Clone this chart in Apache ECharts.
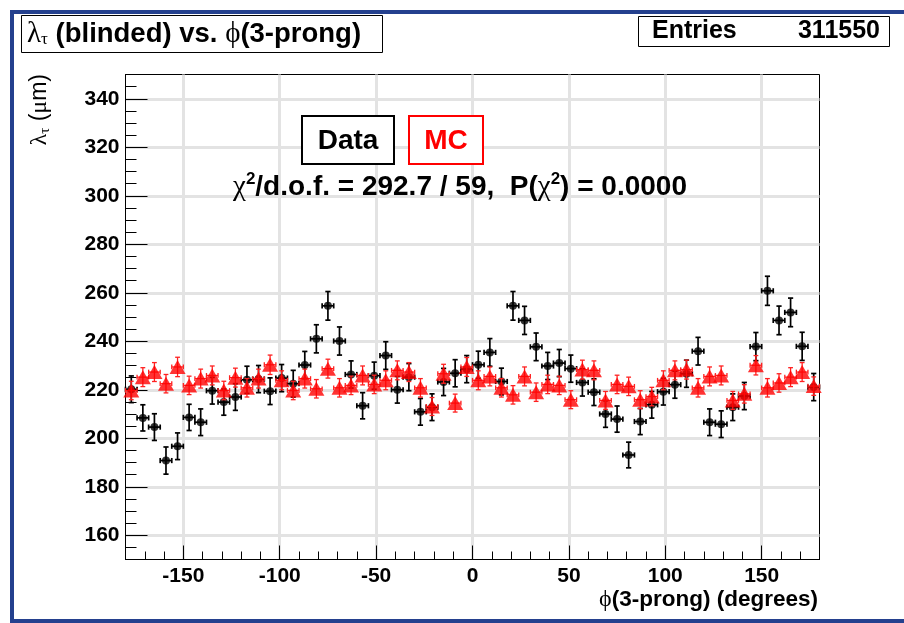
<!DOCTYPE html>
<html>
<head>
<meta charset="utf-8">
<title>lambda_tau vs phi(3-prong)</title>
<script src="https://cdn.jsdelivr.net/npm/echarts@6/dist/echarts.min.js"></script>
<style>
  html, body { margin: 0; padding: 0; background: #ffffff; }
  #chart { width: 904px; height: 623px; }
</style>
</head>
<body>
<div id="chart"></div>
<script>
// ---- binned measurements: phi(3-prong) bin centres (6 degree bins) ----
const phiCentres = [
  -177, -171, -165, -159, -153, -147, -141, -135, -129, -123,
  -117, -111, -105,  -99,  -93,  -87,  -81,  -75,  -69,  -63,
   -57,  -51,  -45,  -39,  -33,  -27,  -21,  -15,   -9,   -3,
     3,    9,   15,   21,   27,   33,   39,   45,   51,   57,
    63,   69,   75,   81,   87,   93,   99,  105,  111,  117,
   123,  129,  135,  141,  147,  153,  159,  165,  171,  177
];
const phiHalfWidth = [3, 3, 3, 3, 3, 3, 3, 3, 3, 3, 3, 3, 3, 3, 3, 3, 3, 3, 3, 3,
  3, 3, 3, 3, 3, 3, 3, 3, 3, 3, 3, 3, 3, 3, 3, 3, 3, 3, 3, 3,
  3, 3, 3, 3, 3, 3, 3, 3, 3, 3, 3, 3, 3, 3, 3, 3, 3, 3, 3, 3];

// mean decay length (um), data
const dataLambda = [
  220.2, 208.4, 204.6, 190.8, 196.7, 208.6, 206.6, 219.6, 214.9, 217.0,
  224.1, 224.4, 219.4, 224.8, 222.5, 230.2, 241.0, 254.6, 240.1, 226.3,
  213.4, 225.8, 234.1, 220.0, 225.2, 210.9, 212.8, 223.2, 226.8, 228.5,
  230.3, 235.4, 223.4, 254.6, 248.6, 237.7, 229.8, 231.0, 228.7, 223.0,
  219.0, 210.0, 207.9, 193.1, 206.9, 213.8, 219.2, 222.1, 226.6, 235.9,
  206.6, 205.8, 212.8, 217.4, 237.8, 260.8, 248.6, 251.9, 237.9, 221.1
];
const dataErr = [
  5.5, 5.4, 5.5, 5.6, 5.5, 5.4, 5.5, 5.5, 5.4, 5.5,
  5.6, 5.6, 5.5, 5.6, 5.5, 5.6, 5.8, 5.9, 5.8, 5.6,
  5.4, 5.6, 5.7, 5.5, 5.6, 5.5, 5.5, 5.6, 5.6, 5.6,
  5.6, 5.7, 5.5, 5.9, 5.8, 5.7, 5.6, 5.6, 5.6, 5.6,
  5.5, 5.5, 5.4, 5.3, 5.4, 5.5, 5.5, 5.6, 5.6, 5.7,
  5.5, 5.5, 5.5, 5.6, 5.8, 6.0, 5.9, 5.9, 5.8, 5.6
];

// mean decay length (um), simulation
const mcLambda = [
  219.7, 225.2, 227.3, 222.5, 229.4, 221.8, 224.6, 225.9, 219.7, 225.0,
  220.8, 224.6, 230.3, 223.9, 219.7, 224.6, 220.4, 228.7, 220.8, 221.8,
  225.9, 222.2, 223.9, 228.0, 227.3, 220.8, 213.1, 226.6, 214.5, 229.4,
  223.9, 225.5, 220.8, 217.9, 225.5, 219.0, 222.2, 221.8, 215.9, 228.3,
  228.0, 215.6, 222.2, 221.4, 215.9, 217.2, 223.9, 228.0, 228.3, 220.8,
  225.5, 225.9, 215.6, 218.3, 230.1, 220.8, 222.8, 225.2, 227.3, 221.5
];
const mcErr = [
  3.8, 3.9, 3.9, 3.8, 4.0, 3.8, 3.9, 3.9, 3.8, 3.9,
  3.8, 3.9, 4.0, 3.9, 3.8, 3.9, 3.8, 3.9, 3.8, 3.8,
  3.9, 3.8, 3.9, 3.9, 3.9, 3.8, 3.7, 3.9, 3.7, 3.9,
  3.9, 3.9, 3.8, 3.8, 3.9, 3.8, 3.8, 3.8, 3.7, 3.9,
  3.9, 3.7, 3.8, 3.8, 3.7, 3.8, 3.9, 3.9, 3.9, 3.8,
  3.9, 3.9, 3.7, 3.8, 4.0, 3.8, 3.8, 3.9, 3.9, 3.8
];

// ---- axes ----
const xRange = [-180, 180];
const yRange = [150, 350];
const xMajorTicks = [-150, -100, -50, 0, 50, 100, 150];
const yMajorTicks = [160, 180, 200, 220, 240, 260, 280, 300, 320, 340];
const xMinorStep = 10;
const yMinorStep = 5;

// ---- texts ----
const entriesCount = '311550';
const chi2Value = '292.7';
const ndf = '59';
const probValue = '0.0000';

const SANS = '"Liberation Sans", Arial, Helvetica, sans-serif';
const GREEK = '"Liberation Serif", "DejaVu Serif", serif';
const FRAME_BLUE = '#24408e';

function toPoints(xs, ys, ey, ex) {
  return xs.map((x, i) => [x, ys[i], ey[i], ex[i]]);
}
const dataPoints = toPoints(phiCentres, dataLambda, dataErr, phiHalfWidth);
const mcPoints = toPoints(phiCentres, mcLambda, mcErr, phiHalfWidth);

// error bars with end caps in both directions
function errorBars(color, lineWidth, cap) {
  return function (params, api) {
    const x = api.value(0), y = api.value(1);
    const ey = api.value(2), ex = api.value(3);
    const lo = api.coord([x, y - ey]);
    const hi = api.coord([x, y + ey]);
    const le = api.coord([x - ex, y]);
    const ri = api.coord([x + ex, y]);
    const style = { stroke: color, lineWidth: lineWidth };
    const ln = (x1, y1, x2, y2) => ({ type: 'line', shape: { x1, y1, x2, y2 }, style });
    return {
      type: 'group',
      children: [
        ln(lo[0], lo[1], hi[0], hi[1]),
        ln(lo[0] - cap, lo[1], lo[0] + cap, lo[1]),
        ln(hi[0] - cap, hi[1], hi[0] + cap, hi[1]),
        ln(le[0], le[1], ri[0], ri[1]),
        ln(le[0], le[1] - cap, le[0], le[1] + cap),
        ln(ri[0], ri[1] - cap, ri[0], ri[1] + cap)
      ]
    };
  };
}

const tickLine = { color: '#000000', width: 1 };
const gridLine = { color: '#e3e3e3', width: 3 };
const tickFont = { fontFamily: SANS, fontWeight: 'bold', fontSize: 21, color: '#000000' };

const chart = echarts.init(document.getElementById('chart'), null, { renderer: 'canvas' });

chart.setOption({
  animation: false,
  backgroundColor: '#ffffff',
  grid: {
    left: 125.5, top: 74.5, width: 694, height: 485,
    show: true, borderColor: '#000000', borderWidth: 1,
    containLabel: false, outerBoundsMode: 'none'
  },
  xAxis: [
    { // grid lines at the labelled values
      type: 'value', min: xRange[0], max: xRange[1], position: 'bottom', z: 0,
      axisLine: { show: false }, axisLabel: { show: false },
      axisTick: { show: false, customValues: xMajorTicks },
      splitLine: { show: true, lineStyle: gridLine }
    },
    { // axis line and minor ticks
      type: 'value', min: xRange[0], max: xRange[1], interval: xMinorStep, position: 'bottom', z: 1,
      axisLine: { show: true, onZero: false, lineStyle: tickLine },
      axisTick: { show: true, inside: true, length: 8, lineStyle: tickLine },
      axisLabel: { show: false }, splitLine: { show: false }
    },
    { // major ticks and labels
      type: 'value', min: xRange[0], max: xRange[1], position: 'bottom', z: 1,
      axisLine: { show: false, onZero: false },
      axisTick: { show: true, inside: true, length: 14, customValues: xMajorTicks, lineStyle: tickLine },
      axisLabel: Object.assign({ show: true, margin: 6, customValues: xMajorTicks }, tickFont),
      splitLine: { show: false }
    }
  ],
  yAxis: [
    {
      type: 'value', min: yRange[0], max: yRange[1], position: 'left', z: 0,
      axisLine: { show: false }, axisLabel: { show: false },
      axisTick: { show: false, customValues: yMajorTicks },
      splitLine: { show: true, lineStyle: gridLine }
    },
    {
      type: 'value', min: yRange[0], max: yRange[1], interval: yMinorStep, position: 'left', z: 1,
      axisLine: { show: true, onZero: false, lineStyle: tickLine },
      axisTick: { show: true, inside: true, length: 11, lineStyle: tickLine },
      axisLabel: { show: false }, splitLine: { show: false }
    },
    {
      type: 'value', min: yRange[0], max: yRange[1], position: 'left', z: 1,
      axisLine: { show: false, onZero: false },
      axisTick: { show: true, inside: true, length: 22, customValues: yMajorTicks, lineStyle: tickLine },
      axisLabel: Object.assign({ show: true, margin: 6, customValues: yMajorTicks }, tickFont),
      splitLine: { show: false }
    }
  ],
  series: [
    {
      name: 'Data errors', type: 'custom', xAxisIndex: 1, yAxisIndex: 1, silent: true,
      renderItem: errorBars('#000000', 1.7, 2.6),
      encode: { x: 0, y: 1 }, data: dataPoints, z: 2
    },
    {
      name: 'Data', type: 'scatter', xAxisIndex: 1, yAxisIndex: 1, silent: true,
      symbol: 'circle', symbolSize: 8,
      itemStyle: { color: '#000000' },
      data: dataPoints.map(p => [p[0], p[1]]), z: 3
    },
    {
      name: 'MC errors', type: 'custom', xAxisIndex: 1, yAxisIndex: 1, silent: true,
      renderItem: errorBars('#ff2020', 1.3, 2.4),
      encode: { x: 0, y: 1 }, data: mcPoints, z: 4
    },
    {
      name: 'MC', type: 'scatter', xAxisIndex: 1, yAxisIndex: 1, silent: true,
      symbol: 'triangle', symbolSize: [16, 14],
      itemStyle: { color: '#ff0000' },
      data: mcPoints.map(p => [p[0], p[1]]), z: 5
    }
  ],
  graphic: {
    elements: [
      { // canvas frame
        type: 'rect', silent: true, z: 100,
        shape: { x: 12, y: 12, width: 900, height: 609 },
        style: { fill: 'none', stroke: FRAME_BLUE, lineWidth: 4 }
      },
      { // histogram title box
        type: 'rect', silent: true,
        shape: { x: 21.5, y: 15.5, width: 361, height: 37 },
        style: { fill: '#ffffff', stroke: '#000000', lineWidth: 1 }
      },
      {
        type: 'text', silent: true, x: 27, y: 34,
        style: {
          text: '{g|λ}{s|τ}{b| (blinded) vs. }{g|ϕ}{b|(3-prong)}',
          verticalAlign: 'middle', align: 'left',
          rich: {
            g: { fontFamily: GREEK, fontSize: 29, fill: '#000', verticalAlign: 'middle' },
            s: { fontFamily: GREEK, fontSize: 17, fill: '#000', padding: [12, 0, 0, 0], verticalAlign: 'middle' },
            b: { fontFamily: SANS, fontWeight: 'bold', fontSize: 27.5, fill: '#000', verticalAlign: 'middle' }
          }
        }
      },
      { // statistics box
        type: 'rect', silent: true,
        shape: { x: 638.5, y: 16.5, width: 251, height: 30 },
        style: { fill: '#ffffff', stroke: '#000000', lineWidth: 1 }
      },
      {
        type: 'text', silent: true, x: 652, y: 31.5,
        style: { text: 'Entries', fontFamily: SANS, fontWeight: 'bold', fontSize: 25, fill: '#000', align: 'left', verticalAlign: 'middle' }
      },
      {
        type: 'text', silent: true, x: 880, y: 31.5,
        style: { text: entriesCount, fontFamily: SANS, fontWeight: 'bold', fontSize: 25, fill: '#000', align: 'right', verticalAlign: 'middle' }
      },
      { // legend: Data
        type: 'rect', silent: true, z: 10,
        shape: { x: 302, y: 116, width: 92, height: 48 },
        style: { fill: '#ffffff', stroke: '#000000', lineWidth: 2 }
      },
      {
        type: 'text', silent: true, z: 11, x: 348, y: 141,
        style: { text: 'Data', fontFamily: SANS, fontWeight: 'bold', fontSize: 28, fill: '#000', align: 'center', verticalAlign: 'middle' }
      },
      { // legend: MC
        type: 'rect', silent: true, z: 10,
        shape: { x: 409, y: 116, width: 74, height: 48 },
        style: { fill: '#ffffff', stroke: '#ff0000', lineWidth: 2 }
      },
      {
        type: 'text', silent: true, z: 11, x: 446, y: 141,
        style: { text: 'MC', fontFamily: SANS, fontWeight: 'bold', fontSize: 28, fill: '#ff0000', align: 'center', verticalAlign: 'middle' }
      },
      { // goodness of fit
        type: 'text', silent: true, z: 11, x: 460, y: 187,
        style: {
          text: '{g|χ}{p|2}{b|/d.o.f. = ' + chi2Value + ' / ' + ndf + ',  P(}{g|χ}{p|2}{b|) = ' + probValue + '}',
          align: 'center', verticalAlign: 'middle',
          rich: {
            g: { fontFamily: GREEK, fontSize: 29, fill: '#000', verticalAlign: 'middle' },
            p: { fontFamily: SANS, fontWeight: 'bold', fontSize: 17, fill: '#000', padding: [0, 0, 15, 0], verticalAlign: 'middle' },
            b: { fontFamily: SANS, fontWeight: 'bold', fontSize: 28, fill: '#000', verticalAlign: 'middle' }
          }
        }
      },
      { // x axis title
        type: 'text', silent: true, x: 818, y: 600,
        style: {
          text: '{g|ϕ}{b|(3-prong) (degrees)}',
          align: 'right', verticalAlign: 'middle',
          rich: {
            g: { fontFamily: GREEK, fontSize: 24, fill: '#000', verticalAlign: 'middle' },
            b: { fontFamily: SANS, fontWeight: 'bold', fontSize: 22.5, fill: '#000', verticalAlign: 'middle' }
          }
        }
      },
      { // y axis title, reading upwards
        type: 'text', silent: true, x: 40, y: 74, rotation: Math.PI / 2,
        style: {
          text: '{g|λ}{s|τ}{r| (}{g|μ}{r|m)}',
          align: 'right', verticalAlign: 'middle',
          rich: {
            g: { fontFamily: GREEK, fontSize: 24, fill: '#000', verticalAlign: 'middle' },
            s: { fontFamily: GREEK, fontSize: 15, fill: '#000', padding: [11, 0, 0, 0], verticalAlign: 'middle' },
            r: { fontFamily: SANS, fontSize: 23, fill: '#000', verticalAlign: 'middle' }
          }
        }
      }
    ]
  }
});
</script>
</body>
</html>
